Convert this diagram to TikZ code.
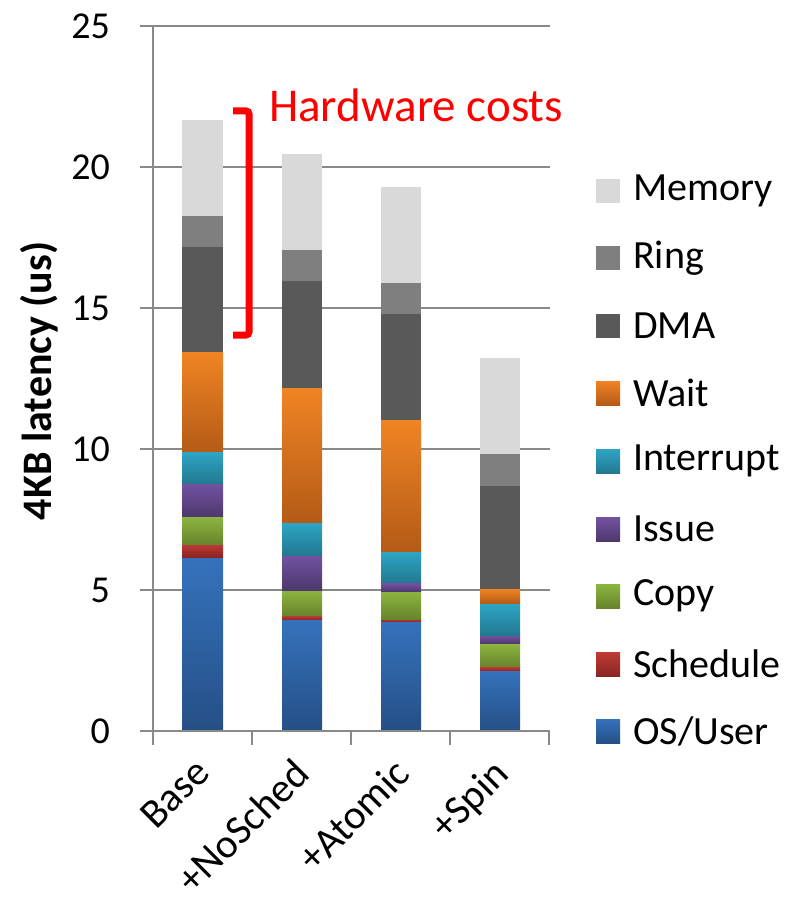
\documentclass[tikz,border=0pt]{standalone}
\usepackage{fontspec}
\setmainfont{Carlito}
\usepackage{tikz}

\definecolor{gridgray}{HTML}{898989}
\definecolor{memgray}{HTML}{D9D9D9}
\definecolor{ringgray}{HTML}{7F7F7F}
\definecolor{dmagray}{HTML}{595959}
\definecolor{waitTop}{HTML}{F08424}
\definecolor{waitBot}{HTML}{B45B17}
\definecolor{intrTop}{HTML}{2EA5C5}
\definecolor{intrBot}{HTML}{227990}
\definecolor{issueTop}{HTML}{7353A1}
\definecolor{issueBot}{HTML}{4D386E}
\definecolor{copyTop}{HTML}{8DB540}
\definecolor{copyBot}{HTML}{67842C}
\definecolor{schedTop}{HTML}{C03A35}
\definecolor{schedBot}{HTML}{8A2623}
\definecolor{osTop}{HTML}{3572BC}
\definecolor{osBot}{HTML}{254F86}

\tikzset{
  segMem/.style={fill=memgray},
  segRing/.style={fill=ringgray},
  segDMA/.style={fill=dmagray},
  segWait/.style={top color=waitTop, bottom color=waitBot},
  segIntr/.style={top color=intrTop, bottom color=intrBot},
  segIssue/.style={top color=issueTop, bottom color=issueBot},
  segCopy/.style={top color=copyTop, bottom color=copyBot},
  segSched/.style={top color=schedTop, bottom color=schedBot},
  segOS/.style={top color=osTop, bottom color=osBot},
  ticklabel/.style={anchor=east, inner sep=0pt, font=\fontsize{38}{40}\selectfont},
  catlabel/.style={anchor=north east, rotate=45, inner sep=0pt, font=\fontsize{41}{43}\selectfont},
  legtext/.style={anchor=west, inner sep=0pt, font=\fontsize{40}{42}\selectfont},
}

\begin{document}
\begin{tikzpicture}[x=1pt, y=-1pt]
    \useasboundingbox (0, 0) rectangle (804, 904);

    % grid lines
    \draw[gridgray, line width=2.2pt] (140, 590) -- (550, 590);
    \draw[gridgray, line width=2.2pt] (140, 449) -- (550, 449);
    \draw[gridgray, line width=2.2pt] (140, 308) -- (550, 308);
    \draw[gridgray, line width=2.2pt] (140, 167) -- (550, 167);
    \draw[gridgray, line width=2.2pt] (140, 26) -- (550, 26);

    % stacked bars, values in us
    \begin{scope}[shift={(153, 731)}, y=28.2pt]
        \fill[segOS] (29, 0) rectangle (70, 6.17);
        \fill[segSched] (29, 6.17) rectangle (70, 6.63);
        \fill[segCopy] (29, 6.63) rectangle (70, 7.59);
        \fill[segIssue] (29, 7.59) rectangle (70, 8.77);
        \fill[segIntr] (29, 8.77) rectangle (70, 9.90);
        \fill[segWait] (29, 9.90) rectangle (70, 13.45);
        \fill[segDMA] (29, 13.45) rectangle (70, 17.16);
        \fill[segRing] (29, 17.16) rectangle (70, 18.26);
        \fill[segMem] (29, 18.26) rectangle (70, 21.67);

        \fill[segOS] (129, 0) rectangle (169, 3.94);
        \fill[segSched] (129, 3.94) rectangle (169, 4.08);
        \fill[segCopy] (129, 4.08) rectangle (169, 5.00);
        \fill[segIssue] (129, 5.00) rectangle (169, 6.24);
        \fill[segIntr] (129, 6.24) rectangle (169, 7.38);
        \fill[segWait] (129, 7.38) rectangle (169, 12.17);
        \fill[segDMA] (129, 12.17) rectangle (169, 15.96);
        \fill[segRing] (129, 15.96) rectangle (169, 17.06);
        \fill[segMem] (129, 17.06) rectangle (169, 20.46);

        \fill[segOS] (228, 0) rectangle (268, 3.87);
        \fill[segSched] (228, 3.87) rectangle (268, 3.97);
        \fill[segCopy] (228, 3.97) rectangle (268, 4.94);
        \fill[segIssue] (228, 4.94) rectangle (268, 5.25);
        \fill[segIntr] (228, 5.25) rectangle (268, 6.36);
        \fill[segWait] (228, 6.36) rectangle (268, 11.04);
        \fill[segDMA] (228, 11.04) rectangle (268, 14.79);
        \fill[segRing] (228, 14.79) rectangle (268, 15.89);
        \fill[segMem] (228, 15.89) rectangle (268, 19.29);

        \fill[segOS] (327, 0) rectangle (367, 2.13);
        \fill[segSched] (327, 2.13) rectangle (367, 2.27);
        \fill[segCopy] (327, 2.27) rectangle (367, 3.09);
        \fill[segIssue] (327, 3.09) rectangle (367, 3.40);
        \fill[segIntr] (327, 3.40) rectangle (367, 4.52);
        \fill[segWait] (327, 4.52) rectangle (367, 5.04);
        \fill[segDMA] (327, 5.04) rectangle (367, 8.69);
        \fill[segRing] (327, 8.69) rectangle (367, 9.82);
        \fill[segMem] (327, 9.82) rectangle (367, 13.23);
    \end{scope}

    % axes and ticks
    \draw[gridgray, line width=2.2pt] (153, 26) -- (153, 745);
    \draw[gridgray, line width=2.2pt] (140, 731) -- (550, 731);
    \draw[gridgray, line width=2.2pt] (252, 731) -- (252, 745);
    \draw[gridgray, line width=2.2pt] (351, 731) -- (351, 745);
    \draw[gridgray, line width=2.2pt] (450, 731) -- (450, 745);
    \draw[gridgray, line width=2.2pt] (549, 731) -- (549, 745);

    \node[ticklabel] (t0) at (110, 731) {0};
    \node[ticklabel] (t5) at (110, 590) {5};
    \node[ticklabel] (t10) at (110, 449) {10};
    \node[ticklabel] (t15) at (110, 308) {15};
    \node[ticklabel] (t20) at (110, 167) {20};
    \node[ticklabel] (t25) at (110, 26) {25};

    \node[rotate=90, font=\fontsize{42}{44}\selectfont\bfseries] (ylab) at (39, 381) {4KB latency (us)};

    \node[catlabel] (cbase) at (193, 756) {Base};
    \node[catlabel] (cnosched) at (292, 756) {+NoSched};
    \node[catlabel] (catomic) at (392, 756) {+Atomic};
    \node[catlabel] (cspin) at (491, 756) {+Spin};

    % legend
    \fill[segMem] (596, 179) rectangle (620, 203);
    \fill[segRing] (596, 246) rectangle (620, 270);
    \fill[segDMA] (596, 314) rectangle (620, 338);
    \fill[segWait] (596, 381) rectangle (620, 405);
    \fill[segIntr] (596, 449) rectangle (620, 473);
    \fill[segIssue] (596, 517) rectangle (620, 541);
    \fill[segCopy] (596, 584) rectangle (620, 608);
    \fill[segSched] (596, 652) rectangle (620, 676);
    \fill[segOS] (596, 719) rectangle (620, 743);

    \node[legtext] (lmem) at (633, 191) {Memory};
    \node[legtext] (lring) at (633, 258) {Ring};
    \node[legtext] (ldma) at (633, 326) {DMA};
    \node[legtext] (lwait) at (633, 393) {Wait};
    \node[legtext] (lintr) at (633, 461) {Interrupt};
    \node[legtext] (lissue) at (633, 529) {Issue};
    \node[legtext] (lcopy) at (633, 596) {Copy};
    \node[legtext] (lsched) at (633, 664) {Schedule};
    \node[legtext] (los) at (633, 731) {OS/User};

    % bracket over the hardware part of Base
    \coordinate (hwtop) at (233, 111);
    \coordinate (hwbot) at (233, 335);
    \draw[red, line width=7pt, rounded corners=3pt] (hwtop) -- (249, 111) -- (249, 335) -- (hwbot);
    \node[red, anchor=west, inner sep=0pt, font=\fontsize{47}{48}\selectfont] (hwcost) at (269, 105) {Hardware costs};
\end{tikzpicture}
\end{document}
